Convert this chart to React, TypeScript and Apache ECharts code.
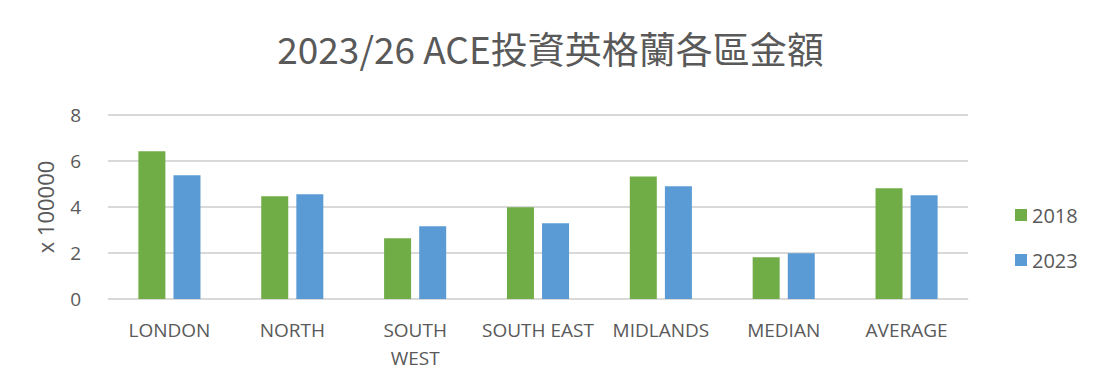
import React, { useEffect, useRef } from "react";
import * as echarts from "echarts";

const categories = ["LONDON", "NORTH", "SOUTH WEST", "SOUTH EAST", "MIDLANDS", "MEDIAN", "AVERAGE"];
const values2018 = [6.42, 4.47, 2.64, 3.99, 5.33, 1.81, 4.81];
const values2023 = [5.38, 4.55, 3.16, 3.29, 4.9, 1.99, 4.51];
const seriesNames = ["2018", "2023"];
const yTicks = { min: 0, max: 8, interval: 2 };

const TEXT = "#595959";
const FONT = "'Open Sans', 'Noto Sans CJK TC', sans-serif";

export default function App() {
  const ref = useRef<HTMLDivElement>(null);
  useEffect(() => {
    document.body.style.margin = "0";
    if (!ref.current) return;
    const chart = echarts.init(ref.current, null, { renderer: "svg" });
    chart.setOption({
      animation: false,
      backgroundColor: "#ffffff",
      title: {
        text: "2023/26 ACE投資英格蘭各區金額",
        left: "center",
        top: 24,
        textStyle: {
          color: TEXT,
          fontSize: 37,
          fontWeight: "normal",
          fontFamily: "'Noto Sans CJK TC', sans-serif",
        },
      },
      legend: {
        orient: "vertical",
        left: 1010,
        top: 198,
        itemWidth: 12,
        itemHeight: 12,
        itemGap: 21,
        icon: "rect",
        textStyle: { color: TEXT, fontSize: 20, fontFamily: FONT, lineHeight: 24 },
        data: seriesNames,
      },
      grid: { left: 108, right: 133, top: 115, bottom: 90, containLabel: false },
      xAxis: {
        type: "category",
        data: categories,
        axisLine: { lineStyle: { color: "#D9D9D9", width: 1 } },
        axisTick: { show: false },
        axisLabel: {
          color: TEXT,
          fontSize: 19,
          fontFamily: FONT,
          margin: 17,
          lineHeight: 28,
          interval: 0,
          formatter: (v: string) => (v === "SOUTH WEST" ? "SOUTH\nWEST" : v),
        },
      },
      yAxis: {
        type: "value",
        min: yTicks.min,
        max: yTicks.max,
        interval: yTicks.interval,
        name: "x 100000",
        nameLocation: "middle",
        nameGap: 52,
        nameRotate: 90,
        nameTextStyle: { color: TEXT, fontSize: 22, fontFamily: FONT },
        axisLine: { show: false },
        axisTick: { show: false },
        axisLabel: { color: TEXT, fontSize: 19, fontFamily: FONT, margin: 27 },
        splitLine: { lineStyle: { color: "#D9D9D9", width: 2 } },
      },
      series: [
        {
          name: seriesNames[0],
          type: "bar",
          data: values2018,
          barWidth: 27,
          barGap: "30%",
          itemStyle: { color: "#70AD47" },
        },
        {
          name: seriesNames[1],
          type: "bar",
          data: values2023,
          barWidth: 27,
          barGap: "30%",
          itemStyle: { color: "#5B9BD5" },
        },
      ],
    });
    return () => chart.dispose();
  }, []);
  return <div ref={ref} style={{ width: 1101, height: 389 }} />;
}
